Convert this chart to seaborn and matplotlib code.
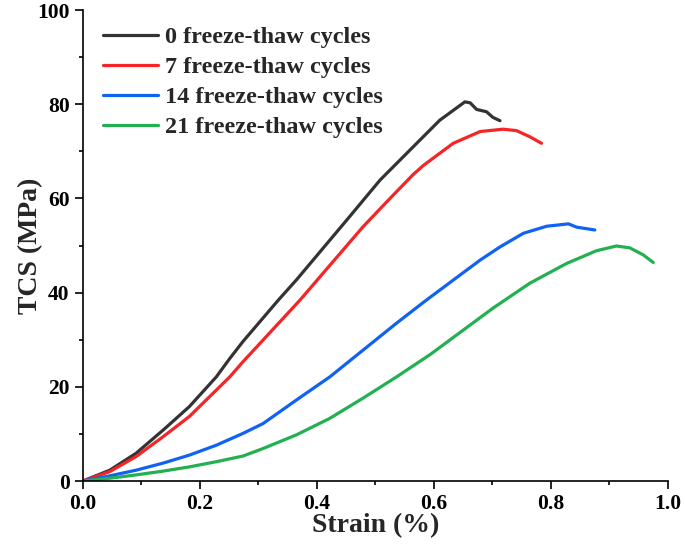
import matplotlib
matplotlib.use("Agg")
import matplotlib.pyplot as plt
from matplotlib.ticker import MultipleLocator
from matplotlib.font_manager import FontProperties
import pandas as pd
import seaborn as sns

# strain (%) and TCS (MPa), one pair of lists per series
strain_0 = [0, 0.046, 0.091, 0.137, 0.182, 0.228, 0.251, 0.2735, 0.334, 0.365, 0.451, 0.508,
            0.565, 0.61, 0.653, 0.662, 0.673, 0.69, 0.701, 0.713]
tcs_0 = [0, 2.3, 5.9, 10.8, 15.8, 22.1, 26.0, 29.6, 38.4, 42.7, 55.4, 63.9,
         71.0, 76.6, 80.5, 80.3, 78.9, 78.4, 77.2, 76.5]

strain_7 = [0, 0.046, 0.091, 0.137, 0.182, 0.228, 0.251, 0.2735, 0.371, 0.479, 0.525,
            0.564, 0.582, 0.633, 0.679, 0.718, 0.741, 0.764, 0.784]
tcs_7 = [0, 2.0, 5.2, 9.4, 13.7, 19.3, 22.1, 25.3, 38.4, 54.0, 60.0,
         65.0, 67.0, 71.7, 74.2, 74.7, 74.4, 73.1, 71.7]

strain_14 = [0, 0.046, 0.091, 0.137, 0.182, 0.228, 0.2735, 0.308, 0.365, 0.422, 0.479,
             0.536, 0.587, 0.679, 0.713, 0.753, 0.793, 0.83, 0.844, 0.875]
tcs_14 = [0, 1.1, 2.3, 3.8, 5.5, 7.6, 10.1, 12.2, 17.2, 22.1, 27.8,
          33.5, 38.4, 46.9, 49.7, 52.6, 54.1, 54.6, 53.9, 53.3]

strain_21 = [0, 0.046, 0.091, 0.137, 0.182, 0.228, 0.2735, 0.308, 0.365, 0.422, 0.479,
             0.536, 0.593, 0.701, 0.764, 0.827, 0.878, 0.912, 0.935, 0.958, 0.975]
tcs_21 = [0, 0.6, 1.3, 2.1, 3.0, 4.1, 5.3, 6.9, 9.8, 13.3, 17.6,
          22.1, 26.8, 36.7, 42.0, 46.2, 48.9, 49.9, 49.5, 48.0, 46.4]

labels = ["0 freeze-thaw cycles", "7 freeze-thaw cycles",
          "14 freeze-thaw cycles", "21 freeze-thaw cycles"]
colors = ["#333333", "#f52525", "#1062f5", "#22b050"]

frames = []
for lab, xs, ys in zip(labels, [strain_0, strain_7, strain_14, strain_21],
                       [tcs_0, tcs_7, tcs_14, tcs_21]):
    frames.append(pd.DataFrame({"Strain": xs, "TCS": ys, "Series": lab}))
df = pd.concat(frames, ignore_index=True)

sns.set_style("ticks")
plt.rcParams["font.family"] = ["Liberation Serif", "DejaVu Serif"]
plt.rcParams["font.weight"] = "bold"
plt.rcParams["lines.solid_capstyle"] = "round"
plt.rcParams["lines.solid_joinstyle"] = "round"

fig = plt.figure(figsize=(6.85, 5.57), dpi=100)
ax = fig.add_axes([0.121, 0.1364, 0.854, 0.8456])

sns.lineplot(data=df, x="Strain", y="TCS", hue="Series", palette=colors,
             sort=False, estimator=None, linewidth=2.3, ax=ax)

ax.set_xlim(0, 1.0)
ax.set_ylim(0, 100)
ax.xaxis.set_major_locator(MultipleLocator(0.2))
ax.xaxis.set_minor_locator(MultipleLocator(0.1))
ax.yaxis.set_major_locator(MultipleLocator(20))
ax.yaxis.set_minor_locator(MultipleLocator(10))
ax.set_xticks([0, 0.2, 0.4, 0.6, 0.8, 1.0])
ax.set_xticklabels(["0.0", "0.2", "0.4", "0.6", "0.8", "1.0"])
ax.tick_params(which="major", direction="out", length=5.5, width=1.2,
               labelsize=15.5, pad=4, colors="black")
ax.tick_params(which="minor", direction="out", length=3, width=1.2, colors="black")
for lab in ax.get_xticklabels() + ax.get_yticklabels():
    lab.set_fontweight("bold")

sns.despine(ax=ax)
for s in ["left", "bottom"]:
    ax.spines[s].set_linewidth(1.2)
    ax.spines[s].set_color("black")

ax.set_xlabel("Strain (%)", fontsize=20, fontweight="bold")
ax.set_ylabel("TCS (MPa)", fontsize=20, fontweight="bold")
ax.xaxis.set_label_coords(0.5, -0.068)
ax.yaxis.set_label_coords(-0.068, 0.5)

leg_font = FontProperties(family="Liberation Serif", weight="bold", size=17.5)
ax.legend(loc="upper left", bbox_to_anchor=(0.034, 0.966), frameon=False,
          prop=leg_font, handlelength=2.26, handletextpad=0.29,
          labelspacing=0.33, borderpad=0, borderaxespad=0)

fig.savefig("out.png", dpi=100)
